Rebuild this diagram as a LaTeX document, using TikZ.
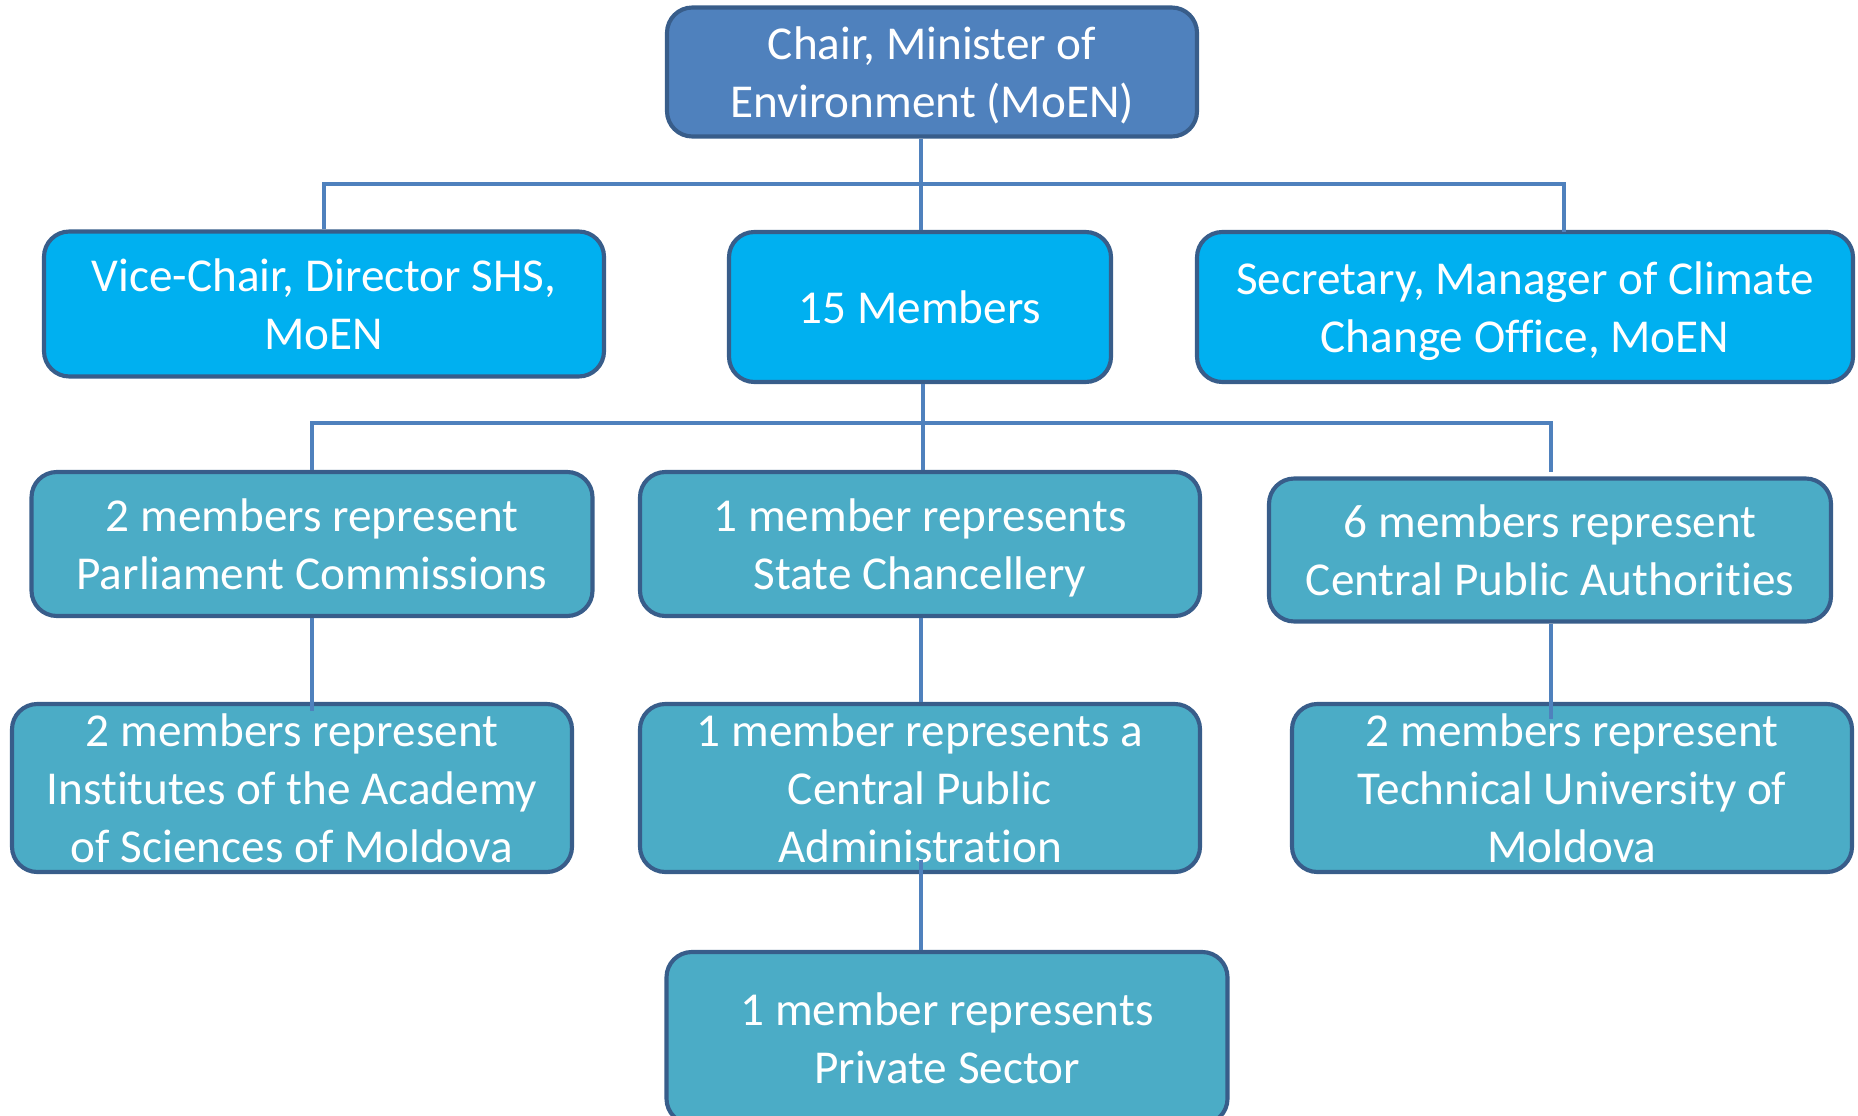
\documentclass[tikz,border=0pt]{standalone}
\usepackage{fontspec}
\setmainfont[RawFeature={-liga;-clig;-calt;-dlig}]{Carlito}
\definecolor{chairfill}{HTML}{4F81BD}
\definecolor{cyanfill}{HTML}{00B0F0}
\definecolor{tealfill}{HTML}{4BACC6}
\definecolor{edge}{HTML}{385D8A}
\definecolor{wire}{HTML}{4F81BD}
\newcommand\lastln[1]{\raisebox{0pt}[\height][0pt]{#1}}
\begin{document}
\begin{tikzpicture}[x=0.75pt,y=-0.75pt,
  box/.style={draw=edge, line width=3.1pt, rounded corners=19pt, text=white,
    align=center, font=\fontsize{35.4}{43.5}\selectfont, inner sep=0pt},
  topbox/.style={box, fill=chairfill},
  midbox/.style={box, fill=cyanfill},
  lowbox/.style={box, fill=tealfill},
  link/.style={draw=wire, line width=2.7pt}]
\useasboundingbox (0,0) rectangle (1858,1116);
\begin{scope}
\clip (0,0) rectangle (1858,1116);
\node[topbox, minimum width=397.5pt, minimum height=96.75pt] (chair) at (932,72) {Chair, Minister of\\\lastln{Environment (MoEN)}};
\node[midbox, minimum width=420pt, minimum height=108.75pt] (vice) at (324,304) {Vice-Chair, Director SHS,\\\lastln{MoEN}};
\node[midbox, minimum width=286.5pt, minimum height=112.5pt] (members) at (920,307) {15 Members};
\node[midbox, minimum width=492pt, minimum height=112.5pt] (sec) at (1525,307) {Secretary, Manager of Climate\\\lastln{Change Office, MoEN}};
\node[lowbox, minimum width=420.75pt, minimum height=108pt] (parl) at (312,544) {2 members represent\\\lastln{Parliament Commissions}};
\node[lowbox, minimum width=420pt, minimum height=108pt] (state) at (920,544) {1 member represents\\\lastln{State Chancellery}};
\node[lowbox, minimum width=421.5pt, minimum height=107.25pt] (cpa6) at (1550,550) {6 members represent\\\lastln{Central Public Authorities}};
\node[lowbox, minimum width=420pt, minimum height=126pt] (inst) at (292,788) {2 members represent\\Institutes of the Academy\\\lastln{of Sciences of Moldova}};
\node[lowbox, minimum width=420pt, minimum height=126pt] (cpa1) at (920,788) {1 member represents a\\Central Public\\\lastln{Administration}};
\node[lowbox, minimum width=420pt, minimum height=126pt] (tech) at (1572,788) {2 members represent\\Technical University of\\\lastln{Moldova}};
\node[lowbox, minimum width=420.75pt, minimum height=129pt] (priv) at (947,1038) {1 member represents\\\lastln{Private Sector}};
\end{scope}
% junction coordinates
\coordinate (j1) at (921,184);
\coordinate (j1l) at (324,184);
\coordinate (j1r) at (1564,184);
\coordinate (secdrop) at (1564,232);
\coordinate (j2) at (923,423);
\coordinate (j2l) at (312,423);
\coordinate (j2r) at (1551,423);
\coordinate (cpadrop) at (1551,472);
\coordinate (instin) at (312,711);
\coordinate (techin) at (1551,719);
\coordinate (cpa1in) at (921,860);
% connectors
\draw[link] (chair.south -| j1) -- (members.north -| j1);
\draw[link] (vice.north) -- (j1l) -- (j1r) -- (secdrop);
\draw[link] (members.south -| j2) -- (state.north -| j2);
\draw[link] (parl.north -| j2l) -- (j2l) -- (j2r) -- (cpadrop);
\draw[link] (parl.south -| instin) -- (instin);
\draw[link] (state.south -| cpa1in) -- (cpa1.north -| cpa1in);
\draw[link] (cpa6.south -| techin) -- (techin);
\draw[link] (cpa1in) -- (priv.north -| cpa1in);
\end{tikzpicture}
\end{document}
